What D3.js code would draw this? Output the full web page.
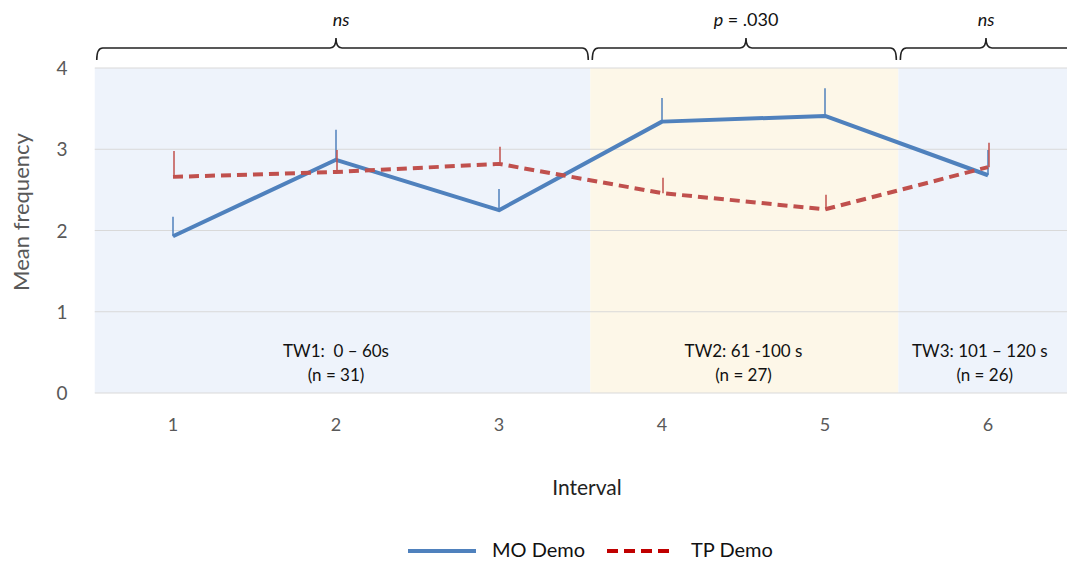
<!DOCTYPE html>
<html>
<head>
<meta charset="utf-8">
<script src="https://cdn.jsdelivr.net/npm/d3@7"></script>
<style>
  body { margin: 0; background: #fff; }
  text { font-family: Lato, "Open Sans", sans-serif; white-space: pre; }
</style>
</head>
<body>
<div id="chart"></div>
<script>
// data
var intervals = [1, 2, 3, 4, 5, 6];
var moMean = [1.93, 2.87, 2.25, 3.34, 3.41, 2.68];
var moErr  = [0.24, 0.37, 0.26, 0.29, 0.34, 0.31];
var tpMean = [2.66, 2.72, 2.82, 2.46, 2.26, 2.78];
var tpErr  = [0.32, 0.27, 0.21, 0.19, 0.18, 0.30];
var yTicks = [0, 1, 2, 3, 4];
// time windows, in interval units
var windows = [
  {from: 0.52, to: 3.56, fill: "#eef3fb", label: "TW1:  0 \u2013 60s", n: "(n = 31)", sig: "ns", lx: 2, nx: 2},
  {from: 3.56, to: 5.45, fill: "#fdf7e8", label: "TW2: 61 -100 s", n: "(n = 27)", sig: "p = .030", lx: 4.5, nx: 4.5},
  {from: 5.45, to: 6.6, fill: "#eef3fb", label: "TW3: 101 \u2013 120 s", n: "(n = 26)", sig: "ns", lx: 5.95, nx: 5.98}
];

var W = 1067, H = 562;
var svg = d3.select("#chart").append("svg").attr("width", W).attr("height", H);

var x = d3.scaleLinear().domain([0.5, 6.5]).range([91.5, 1069.5]);
var y = d3.scaleLinear().domain([0, 4]).range([393, 68]);

// shaded windows
svg.selectAll(".win").data(windows).enter().append("rect")
  .attr("x", function(d) { return x(d.from); })
  .attr("width", function(d) { return x(d.to) - x(d.from); })
  .attr("y", y(4)).attr("height", y(0) - y(4))
  .attr("fill", function(d) { return d.fill; });

// gridlines
svg.selectAll(".grid").data(yTicks).enter().append("line")
  .attr("x1", x(0.52)).attr("x2", W)
  .attr("y1", function(d) { return y(d); }).attr("y2", function(d) { return y(d); })
  .attr("stroke", "#d9d9d9").attr("stroke-width", 1.2);

// y tick labels
svg.selectAll(".yt").data(yTicks).enter().append("text")
  .attr("x", 62).attr("y", function(d) { return y(d) + 7; })
  .attr("text-anchor", "middle").attr("font-size", 19).attr("fill", "#595959")
  .text(function(d) { return d; });

// x tick labels
svg.selectAll(".xt").data(intervals).enter().append("text")
  .attr("x", function(d) { return x(d); }).attr("y", 431)
  .attr("text-anchor", "middle").attr("font-size", 18).attr("fill", "#595959")
  .text(function(d) { return d; });

svg.append("text").attr("transform", "translate(29,212) rotate(-90)")
  .attr("text-anchor", "middle").attr("font-size", 22).attr("fill", "#595959")
  .text("Mean frequency");

svg.append("text").attr("x", 587).attr("y", 495)
  .attr("text-anchor", "middle").attr("font-size", 21).attr("fill", "#222")
  .text("Interval");

// window labels
svg.selectAll(".wl").data(windows).enter().append("text")
  .attr("x", function(d) { return x(d.lx); }).attr("y", 357)
  .attr("text-anchor", "middle").attr("font-size", 17).attr("fill", "#111")
  .text(function(d) { return d.label; });
svg.selectAll(".wn").data(windows).enter().append("text")
  .attr("x", function(d) { return x(d.nx); }).attr("y", 381)
  .attr("text-anchor", "middle").attr("font-size", 17).attr("fill", "#111")
  .text(function(d) { return d.n; });

// braces
var bTop = 48, bEnd = 60, bPeak = 38;
function brace(x0, x1, xm) {
  return "M" + x0 + "," + bEnd + " Q" + x0 + "," + bTop + " " + (x0 + 6) + "," + bTop +
    " L" + (xm - 6) + "," + bTop + " Q" + xm + "," + bTop + " " + xm + "," + bPeak +
    " Q" + xm + "," + bTop + " " + (xm + 6) + "," + bTop +
    " L" + (x1 - 6) + "," + bTop + " Q" + x1 + "," + bTop + " " + x1 + "," + bEnd;
}
var braceMid = [336, 746, 986];
svg.selectAll(".brace").data(windows).enter().append("path")
  .attr("d", function(d, i) {
    var x1 = i == 2 ? W + 20 : x(d.to) - 2;
    return brace(x(d.from) + 2, x1, braceMid[i]);
  })
  .attr("fill", "none").attr("stroke", "#222").attr("stroke-width", 1.6);
svg.selectAll(".sig").data(windows).enter().append("text")
  .attr("x", function(d, i) { return braceMid[i] + (i == 0 ? 5 : 0); }).attr("y", 26)
  .attr("text-anchor", "middle").attr("font-size", 18).attr("fill", "#111")
  .each(function(d) {
    var t = d3.select(this);
    if (d.sig == "ns") {
      t.append("tspan").attr("font-style", "italic").text("ns");
    } else {
      t.append("tspan").attr("font-style", "italic").text("p");
      t.append("tspan").text(" = .030");
    }
  });

// series
var series = [
  {name: "MO Demo", mean: moMean, err: moErr, color: "#4f81bd", dash: null, dx: 0, legColor: "#4f81bd"},
  {name: "TP Demo", mean: tpMean, err: tpErr, color: "#c0504d", dash: "10,6", dx: 1, legColor: "#c00000"}
];

var line = d3.line()
  .x(function(d) { return x(d[0]); })
  .y(function(d) { return y(d[1]); });

series.forEach(function(s) {
  var pts = intervals.map(function(v, i) { return [v, s.mean[i]]; });
  svg.append("path").datum(pts)
    .attr("d", line)
    .attr("fill", "none").attr("stroke", s.color).attr("stroke-width", 4)
    .attr("stroke-dasharray", s.dash).attr("stroke-linejoin", "round");
  svg.selectAll(".err" + s.dx).data(pts).enter().append("line")
    .attr("x1", function(d) { return x(d[0]) + s.dx; })
    .attr("x2", function(d) { return x(d[0]) + s.dx; })
    .attr("y1", function(d) { return y(d[1]); })
    .attr("y2", function(d, i) { return y(d[1] + s.err[i]); })
    .attr("stroke", s.color).attr("stroke-width", 1.5);
});

// legend
var legX = [408, 607];
series.forEach(function(s, i) {
  svg.append("line").attr("x1", legX[i]).attr("x2", legX[i] + 68)
    .attr("y1", 551).attr("y2", 551)
    .attr("stroke", s.legColor).attr("stroke-width", 4)
    .attr("stroke-dasharray", s.dash ? "11,6" : null);
  svg.append("text").attr("x", legX[i] + 84).attr("y", 557)
    .attr("font-size", 20).attr("fill", "#111").text(s.name);
});
</script>
</body>
</html>
